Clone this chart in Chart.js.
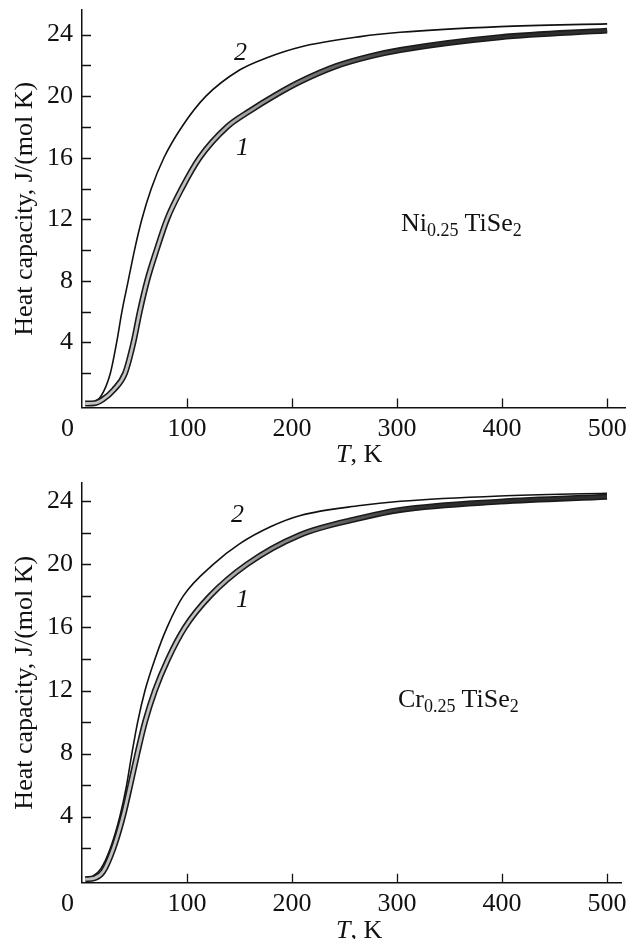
<!DOCTYPE html>
<html>
<head>
<meta charset="utf-8">
<script src="https://cdn.jsdelivr.net/npm/chart.js@4.4.1/dist/chart.umd.min.js"></script>
<style>
    body { margin: 0; background: #fff; }
    #fig { position: relative; width: 637px; height: 939px; font-family: "Liberation Serif", serif; color: #111; }
    .panel { position: absolute; left: 0; width: 637px; }
    .txt { position: absolute; font-size: 26px; line-height: 26px; white-space: nowrap; }
    .txt sub { font-size: 18px; vertical-align: -5px; line-height: 0; }
    .it { font-style: italic; }
</style>
</head>
<body>
<div id="fig">
    <div class="panel" style="top:0;height:470px"><canvas id="niChart" width="637" height="470"></canvas></div>
    <div class="panel" style="top:470px;height:469px"><canvas id="crChart" width="637" height="469"></canvas></div>

    <div class="txt" style="left:61px;top:415px">0</div>
    <div class="txt" style="left:336px;top:441px"><span class="it">T</span>, K</div>
    <div class="txt it" style="left:234px;top:39px">2</div>
    <div class="txt it" style="left:236px;top:134px">1</div>
    <div class="txt" style="left:401px;top:210px">Ni<sub>0.25</sub> TiSe<sub>2</sub></div>

    <div class="txt" style="left:61px;top:890px">0</div>
    <div class="txt" style="left:336px;top:917px"><span class="it">T</span>, K</div>
    <div class="txt it" style="left:231px;top:501px">2</div>
    <div class="txt it" style="left:236px;top:586px">1</div>
    <div class="txt" style="left:398px;top:686px">Cr<sub>0.25</sub> TiSe<sub>2</sub></div>
</div>

<script>
// Ni0.25TiSe2: curve 1 (markers) and curve 2 (solid line), T in K, C in J/(mol K)
const niT1 = [3, 12, 20, 30, 41, 49, 55, 62, 71, 81, 95, 112, 138, 160, 185, 208, 242, 275, 303, 398, 500];
const niC1 = [0.03, 0.05, 0.3, 0.9, 2, 4, 6, 8, 10, 12, 14, 16, 18, 19.05, 20.1, 20.95, 21.95, 22.6, 23.0, 23.83, 24.26];
const niT2 = [3, 10, 18, 27, 33, 38, 44, 50, 57, 66, 78, 95, 118, 150, 176, 208, 265, 303, 398, 500];
const niC2 = [0.05, 0.1, 0.5, 2, 4, 6, 8, 10, 12, 14, 16, 18, 20, 21.7, 22.5, 23.2, 23.87, 24.15, 24.52, 24.7];

// Cr0.25TiSe2
const crT1 = [3, 12, 20, 30, 39, 46, 52.7, 60, 69.5, 82, 98, 122, 157, 207, 265, 303, 398, 500];
const crC1 = [0.03, 0.1, 0.5, 2, 4, 6, 8, 10, 12, 14, 16, 18, 20, 21.85, 22.93, 23.45, 23.98, 24.29];
const crT2 = [3, 10, 18, 27, 36, 42.5, 47.5, 53, 60, 69.5, 81, 96.5, 125, 150, 180, 208, 265, 303, 398, 500];
const crC2 = [0.1, 0.2, 0.7, 2, 4, 6, 8, 10, 12, 14, 16, 18, 20, 21.3, 22.4, 23.1, 23.73, 24.0, 24.34, 24.51];

// axis ticks
const xTickVals = [100, 200, 300, 400, 500];
const yTickVals = [2, 4, 6, 8, 10, 12, 14, 16, 18, 20, 22, 24];

const serif = '"Liberation Serif", "Times New Roman", serif';
const ink = '#111';

function pts(xs, ys) {
    return xs.map((x, i) => ({ x: x, y: ys[i] }));
}

// tick marks point into the plot, so they are drawn here instead of by the grid
const inwardTicks = {
    id: 'inwardTicks',
    afterDraw(chart) {
        const { ctx, chartArea: a, scales: { x, y } } = chart;
        ctx.save();
        ctx.strokeStyle = ink;
        ctx.lineWidth = 1.3;
        ctx.beginPath();
        xTickVals.forEach(v => {
            const px = Math.round(x.getPixelForValue(v)) + 0.5;
            ctx.moveTo(px, a.bottom);
            ctx.lineTo(px, a.bottom - 9);
        });
        yTickVals.forEach(v => {
            const py = Math.round(y.getPixelForValue(v)) + 0.5;
            ctx.moveTo(a.left, py);
            ctx.lineTo(a.left + 9, py);
        });
        ctx.stroke();
        ctx.restore();
    }
};

// marker band gets darker where the points pile up on the plateau
function bandFill(context) {
    const chart = context.chart;
    if (!chart.chartArea) return '#bbb';
    const x = chart.scales.x;
    const g = chart.ctx.createLinearGradient(x.getPixelForValue(110), 0, x.getPixelForValue(320), 0);
    g.addColorStop(0, '#c2c2c2');
    g.addColorStop(1, '#2e2e2e');
    return g;
}

function makePanel(id, t1, c1, t2, c2, o) {
    return new Chart(document.getElementById(id), {
        type: 'line',
        data: {
            datasets: [
                { data: pts(t1, c1), borderColor: bandFill, borderWidth: 2.8, order: 0 },
                { data: pts(t1, c1), borderColor: '#1a1a1a', borderWidth: 6, order: 1 },
                { data: pts(t2, c2), borderColor: ink, borderWidth: 1.6, order: 2 }
            ]
        },
        options: {
            responsive: false,
            animation: false,
            events: [],
            layout: { padding: { top: o.top, right: o.right, left: 0, bottom: 0 } },
            elements: {
                point: { radius: 0 },
                line: { cubicInterpolationMode: 'monotone', fill: false }
            },
            plugins: { legend: { display: false }, tooltip: { enabled: false } },
            scales: {
                x: {
                    type: 'linear',
                    min: 0,
                    max: o.xMax,
                    afterFit: s => { s.height = o.xHeight; s.paddingLeft = 0; s.paddingRight = 0; },
                    afterBuildTicks: s => { s.ticks = xTickVals.map(v => ({ value: v })); },
                    grid: { display: false, drawTicks: false },
                    border: { display: true, color: ink, width: 1.5 },
                    ticks: { color: ink, padding: 6, maxRotation: 0, autoSkip: false, font: { family: serif, size: 26 } }
                },
                y: {
                    min: o.yMin,
                    max: o.yMax,
                    afterFit: s => { s.width = 82; s.paddingTop = 0; s.paddingBottom = 0; },
                    afterBuildTicks: s => { s.ticks = yTickVals.map(v => ({ value: v })); },
                    grid: { display: false, drawTicks: false },
                    border: { display: true, color: ink, width: 1.5 },
                    ticks: {
                        color: ink,
                        padding: 9,
                        autoSkip: false,
                        font: { family: serif, size: 26 },
                        callback: v => (v % 4 === 0 ? String(v) : '')
                    },
                    title: {
                        display: true,
                        text: 'Heat capacity, J/(mol K)',
                        color: ink,
                        padding: { top: 10, bottom: 0 },
                        font: { family: serif, size: 26 }
                    }
                }
            }
        },
        plugins: [inwardTicks]
    });
}

makePanel('niChart', niT1, niC1, niT2, niC2,
    { top: 10, right: 12, xMax: 517, xHeight: 62.5, yMin: -0.23, yMax: 25.6 });
makePanel('crChart', crT1, crC1, crT2, crC2,
    { top: 12.7, right: 15.3, xMax: 514, xHeight: 56.3, yMin: -0.19, yMax: 25.18 });
</script>
</body>
</html>
